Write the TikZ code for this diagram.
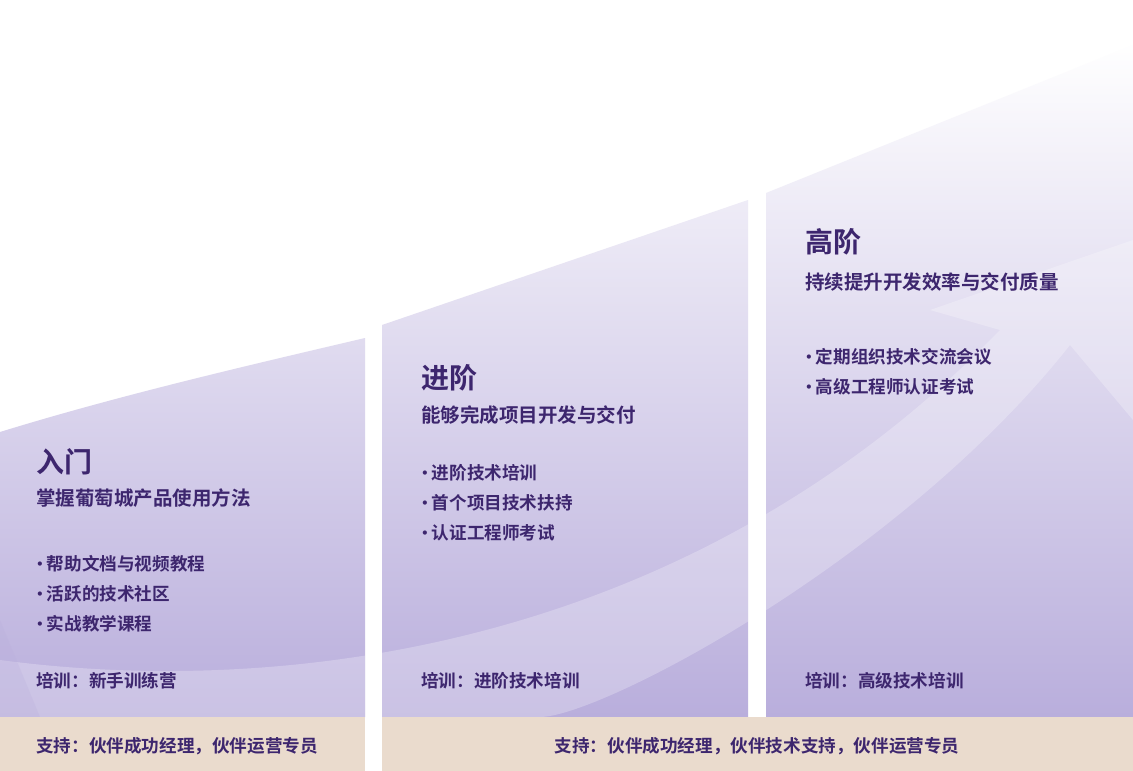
\documentclass[tikz,border=0pt]{standalone}
\usepackage{fontspec}
\newfontfamily\cjk{Noto Sans CJK SC}[BoldFont={Noto Sans CJK SC Bold}]
\newfontfamily\latn{DejaVu Sans}
\definecolor{txt}{HTML}{3D266E}
\definecolor{lav}{HTML}{B9AEDC}
\definecolor{beige}{HTML}{EADBCD}
\newcommand{\bul}{\raisebox{2pt}{\latn\fontsize{12}{12}\selectfont•}\hspace{3pt}}
\tikzset{
 title/.style={anchor=west,font=\cjk\bfseries\fontsize{28}{30}\selectfont,text=txt,inner sep=0},
 sub/.style={anchor=west,font=\cjk\bfseries\fontsize{19.5}{22}\selectfont,text=txt,inner sep=0},
 item/.style={anchor=west,font=\cjk\bfseries\fontsize{17.6}{20}\selectfont,text=txt,inner sep=0},
}
\begin{document}
\begin{tikzpicture}[x=1pt,y=-1pt]
\useasboundingbox (0,0) rectangle (1133,771);
\fill[white] (0,0) rectangle (1133,771);
\begin{scope}
\clip (0,432) .. controls (120,395) and (250,365) .. (365,338) -- (365,717) -- (0,717) -- cycle
      (382,325) -- (748,200) -- (748,717) -- (382,717) -- cycle
      (766,193) -- (1133,45) -- (1133,717) -- (766,717) -- cycle;
\shade[top color=white,bottom color=lav] (0,40) rectangle (1133,717);
\fill[white,opacity=0.25] (0,660) .. controls (300,700) and (700,640) .. (1000,330)
  -- (930,310) -- (1133,240) -- (1133,420) -- (1070,345)
  .. controls (900,560) and (600,717) .. (540,717) -- (0,717) -- cycle;
\fill[lav,opacity=0.25] (0,620) -- (40,717) -- (0,717) -- cycle;
\end{scope}
\fill[beige] (0,717) rectangle (365,771);
\fill[beige] (382,717) rectangle (1133,771);
% column 1
\node[title] (t1) at (36,462) {入门};
\node[sub] (s1) at (36,498) {掌握葡萄城产品使用方法};
\node[item] (a1) at (36,564) {\bul 帮助文档与视频教程};
\node[item] (a2) at (36,594) {\bul 活跃的技术社区};
\node[item] (a3) at (36,624) {\bul 实战教学课程};
\node[item] (tr1) at (36,681) {培训：新手训练营};
\node[item] (sp1) at (36,746) {支持：伙伴成功经理，伙伴运营专员};
% column 2
\node[title] (t2) at (421,378) {进阶};
\node[sub] (s2) at (421,415) {能够完成项目开发与交付};
\node[item] (b1) at (421,473) {\bul 进阶技术培训};
\node[item] (b2) at (421,503) {\bul 首个项目技术扶持};
\node[item] (b3) at (421,533) {\bul 认证工程师考试};
\node[item] (tr2) at (421,681) {培训：进阶技术培训};
\node[item,anchor=center] (sp2) at (757,746) {支持：伙伴成功经理，伙伴技术支持，伙伴运营专员};
% column 3
\node[title] (t3) at (805,242) {高阶};
\node[sub] (s3) at (805,282) {持续提升开发效率与交付质量};
\node[item] (c1) at (805,357) {\bul 定期组织技术交流会议};
\node[item] (c2) at (805,387) {\bul 高级工程师认证考试};
\node[item] (tr3) at (805,681) {培训：高级技术培训};
\end{tikzpicture}
\end{document}
